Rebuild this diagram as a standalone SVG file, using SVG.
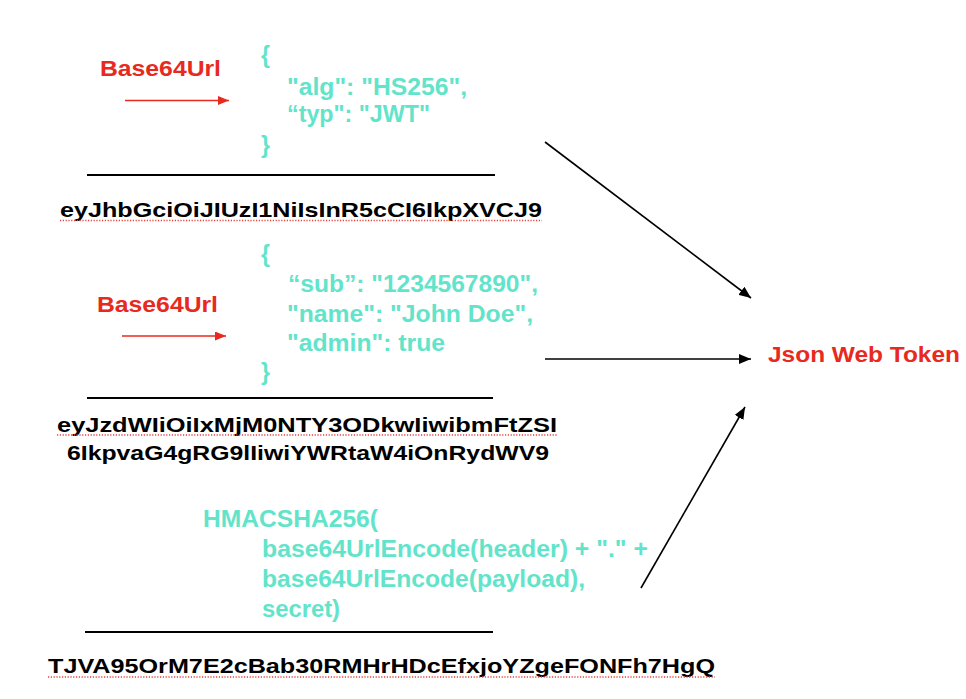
<svg xmlns="http://www.w3.org/2000/svg" width="966" height="699" viewBox="0 0 966 699">
  <style>
    text { font-family: "Liberation Sans", Arial, Helvetica, sans-serif; font-weight: bold; }
    .red { fill: #E8291E; font-size: 22px; }
    .teal { fill: #62E4CA; font-size: 23px; }
    .brace { fill: #62E4CA; font-size: 23px; }
    .blk { fill: #000000; font-size: 21px; }
    .rule { stroke: #000000; stroke-width: 2; }
    .dots { stroke: #E8403A; stroke-width: 1.3; stroke-dasharray: 1.2 1.6; }
    .conn { stroke: #000000; stroke-width: 1.6; fill: none; marker-end: url(#blackArrow); }
    .redconn { stroke: #E8291E; stroke-width: 1.6; fill: none; marker-end: url(#redArrow); }
  </style>
  <defs>
    <marker id="blackArrow" markerUnits="userSpaceOnUse" markerWidth="12" markerHeight="10" refX="12" refY="5" orient="auto">
      <path d="M0,0 L12,5 L0,10 z" fill="#000000"/>
    </marker>
    <marker id="redArrow" markerUnits="userSpaceOnUse" markerWidth="11" markerHeight="9" refX="11" refY="4.5" orient="auto">
      <path d="M0,0 L11,4.5 L0,9 z" fill="#E8291E"/>
    </marker>
  </defs>
  <rect x="0" y="0" width="966" height="699" fill="#ffffff"/>

  <g id="header">
    <text class="red" x="100" y="75.5" textLength="121" lengthAdjust="spacingAndGlyphs">Base64Url</text>
    <text class="brace" x="261" y="63">{</text>
    <text class="teal" x="287" y="95" textLength="180" lengthAdjust="spacingAndGlyphs">"alg": "HS256",</text>
    <text class="teal" x="287" y="122" textLength="143" lengthAdjust="spacingAndGlyphs">“typ": "JWT"</text>
    <text class="brace" x="261" y="153">}</text>
    <line class="rule" x1="87" y1="175" x2="495" y2="175"/>
    <text class="blk" x="60" y="216.5" textLength="482" lengthAdjust="spacingAndGlyphs">eyJhbGciOiJIUzI1NiIsInR5cCI6IkpXVCJ9</text>
    <line class="dots" x1="60" y1="220.5" x2="542" y2="220.5"/>
  </g>

  <g id="payload">
    <text class="red" x="97" y="312" textLength="121" lengthAdjust="spacingAndGlyphs">Base64Url</text>
    <text class="brace" x="261" y="262">{</text>
    <text class="teal" x="288" y="292" textLength="250" lengthAdjust="spacingAndGlyphs">“sub”: "1234567890",</text>
    <text class="teal" x="287" y="322" textLength="246" lengthAdjust="spacingAndGlyphs">"name": "John Doe",</text>
    <text class="teal" x="287" y="351" textLength="158" lengthAdjust="spacingAndGlyphs">"admin": true</text>
    <text class="brace" x="261" y="380">}</text>
    <line class="rule" x1="87" y1="398" x2="493" y2="398"/>
    <text class="blk" x="57" y="431.5" textLength="500" lengthAdjust="spacingAndGlyphs">eyJzdWIiOiIxMjM0NTY3ODkwIiwibmFtZSI</text>
    <line class="dots" x1="57" y1="435" x2="557" y2="435"/>
    <text class="blk" x="67" y="459.5" textLength="482" lengthAdjust="spacingAndGlyphs">6IkpvaG4gRG9lIiwiYWRtaW4iOnRydWV9</text>
  </g>

  <g id="signature">
    <text class="teal" x="203" y="526.5" textLength="175" lengthAdjust="spacingAndGlyphs">HMACSHA256(</text>
    <text class="teal" x="262" y="556.5" textLength="386" lengthAdjust="spacingAndGlyphs">base64UrlEncode(header) + "." +</text>
    <text class="teal" x="262" y="587" textLength="323" lengthAdjust="spacingAndGlyphs">base64UrlEncode(payload),</text>
    <text class="teal" x="262" y="616.5" textLength="78" lengthAdjust="spacingAndGlyphs">secret)</text>
    <line class="rule" x1="85" y1="632" x2="493" y2="632"/>
    <text class="blk" x="48" y="672.5" textLength="667" lengthAdjust="spacingAndGlyphs">TJVA95OrM7E2cBab30RMHrHDcEfxjoYZgeFONFh7HgQ</text>
    <line class="dots" x1="48" y1="677" x2="715" y2="677"/>
  </g>

  <g id="jwt">
    <text class="red" x="768" y="361.5" textLength="192" lengthAdjust="spacingAndGlyphs">Json Web Token</text>
  </g>

  <g id="connectors">
    <line class="redconn" x1="125" y1="100.5" x2="229" y2="100.5"/>
    <line class="redconn" x1="122" y1="336" x2="226" y2="336"/>
    <line class="conn" x1="545" y1="142" x2="751" y2="298"/>
    <line class="conn" x1="545" y1="359" x2="751" y2="359"/>
    <line class="conn" x1="641" y1="588" x2="745" y2="407"/>
  </g>
</svg>
